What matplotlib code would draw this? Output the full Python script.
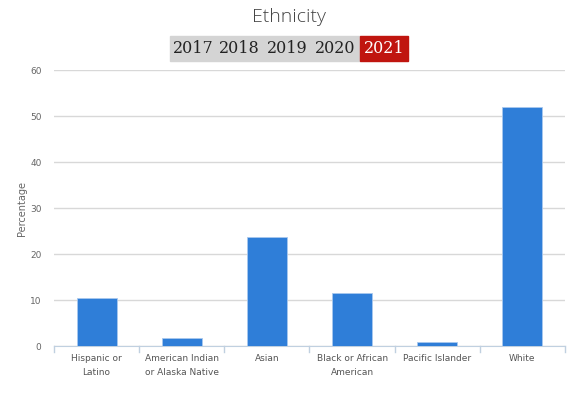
import matplotlib.pyplot as plt
from matplotlib.patches import Rectangle

categories = ["Hispanic or\nLatino", "American Indian\nor Alaska Native", "Asian",
              "Black or African\nAmerican", "Pacific Islander", "White"]
percentages = [10.4, 1.7, 23.7, 11.5, 0.9, 52.0]
years = ["2017", "2018", "2019", "2020", "2021"]
year_x = [193, 239, 287, 335, 384]

fig = plt.figure(figsize=(5.73, 3.93), dpi=100)
ax = fig.add_axes([54/573, 1-346/393, 511/573, 276/393])

x = list(range(len(categories)))
ax.bar(x, percentages, width=0.47, color="#2f7ed8", edgecolor="#a9c8ee", linewidth=0.6, zorder=3)

ax.set_xlim(-0.5, len(categories) - 0.5)
ax.set_ylim(0, 60)
ax.set_yticks(range(0, 61, 10))
ax.yaxis.grid(True, color="#d8d8d8", linewidth=1, zorder=0)
ax.tick_params(axis="y", length=0, labelsize=6.5, labelcolor="#666666", pad=9)
ax.set_xticks(x)
ax.set_xticklabels(categories, fontsize=6.5, color="#555555", linespacing=1.6)
ax.tick_params(axis="x", length=0, pad=6)
# boundary ticks under the axis line
for b in [i - 0.5 for i in range(len(categories) + 1)]:
    ax.plot([b, b], [0, -1.2], color="#c0d0e0", lw=1, clip_on=False, zorder=4)

for side in ["top", "right", "left"]:
    ax.spines[side].set_visible(False)
ax.spines["bottom"].set_color("#c0d0e0")
ax.set_ylabel("Percentage", fontsize=7, color="#666666", labelpad=2)

fig.text(289/573, 1-17/393, "Ethnicity", ha="center", va="center",
         fontsize=14, color="#444444", family="Open Sans", fontweight="light")

fig.patches.append(Rectangle((170/573, 1-61/393), 190/573, 25/393,
                             transform=fig.transFigure, color="#d4d4d4", zorder=0))
fig.patches.append(Rectangle((360/573, 1-61/393), 48/573, 25/393,
                             transform=fig.transFigure, color="#c0150f", zorder=0))
for yr, px in zip(years, year_x):
    col = "white" if yr == "2021" else "#222222"
    fig.text(px/573, 1-48.5/393, yr, ha="center", va="center", fontsize=11.5,
             family="DejaVu Serif", color=col)

plt.savefig("out.png")
